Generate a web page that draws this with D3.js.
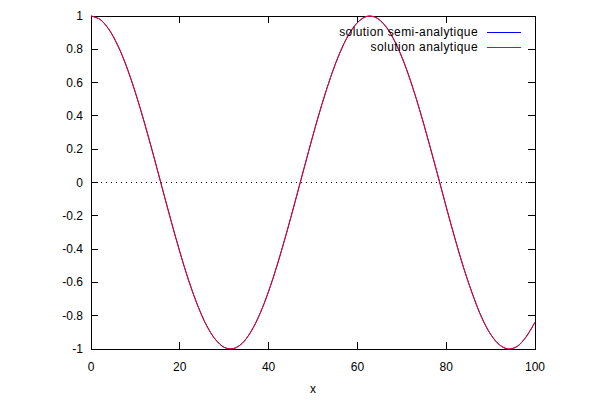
<!DOCTYPE html>
<html><head><meta charset="utf-8">
<script src="https://cdn.jsdelivr.net/npm/d3@7"></script>
<style>body{margin:0;background:#fff}text{font-family:"Liberation Sans",Arial,sans-serif;font-size:12px;fill:#000}</style>
</head><body><svg id="c" width="600" height="400"></svg>
<script>
const xs = [0,2,4,6,8,10,12,14,16,18,20,22,24,26,28,30,32,34,36,38,40,42,44,46,48,50,52,54,56,58,60,62,64,66,68,70,72,74,76,78,80,82,84,86,88,90,92,94,96,98,100];
const semiAnalytique = [1,0.980,0.921,0.825,0.697,0.540,0.362,0.170,-0.029,-0.227,-0.416,-0.589,-0.737,-0.857,-0.942,-0.990,-0.998,-0.967,-0.897,-0.791,-0.654,-0.490,-0.307,-0.112,0.087,0.284,0.469,0.635,0.776,0.886,0.960,0.997,0.993,0.950,0.869,0.754,0.608,0.438,0.250,0.054,-0.146,-0.339,-0.519,-0.676,-0.811,-0.911,-0.975,-1.000,-0.984,-0.927,-0.839];
const analytique = [1,0.980,0.921,0.825,0.697,0.540,0.362,0.170,-0.029,-0.227,-0.416,-0.589,-0.737,-0.857,-0.942,-0.990,-0.998,-0.967,-0.897,-0.791,-0.654,-0.490,-0.307,-0.112,0.087,0.284,0.469,0.635,0.776,0.886,0.960,0.997,0.993,0.950,0.869,0.754,0.608,0.438,0.250,0.054,-0.146,-0.339,-0.519,-0.676,-0.811,-0.911,-0.975,-1.000,-0.984,-0.927,-0.839];
const xTicks = [0,20,40,60,80,100];
const yTicks = [-1,-0.8,-0.6,-0.4,-0.2,0,0.2,0.4,0.6,0.8,1];
const seriesNames = ["solution semi-analytique","solution analytique"];
const seriesColors = ["#0000ff","#ff0000"];

const svg = d3.select("#c");
const L=91, R=535, T=16, B=349;
const x = d3.scaleLinear().domain([0,100]).range([L,R]);
const y = d3.scaleLinear().domain([-1,1]).range([B,T]);
const fmt = v => String(Math.round(v*10)/10);

// zero line
svg.append("line").attr("x1",x(0)).attr("x2",x(100)).attr("y1",y(0)).attr("y2",y(0))
  .attr("stroke","#000").attr("stroke-width",1).attr("stroke-dasharray","1,4").attr("shape-rendering","crispEdges");

const tl = 7;
const g = svg.append("g").attr("shape-rendering","crispEdges");
xTicks.forEach(v=>{
  g.append("line").attr("x1",x(v)).attr("x2",x(v)).attr("y1",B).attr("y2",B-tl).attr("stroke","#000");
  g.append("line").attr("x1",x(v)).attr("x2",x(v)).attr("y1",T).attr("y2",T+tl).attr("stroke","#000");
  svg.append("text").attr("x",x(v)).attr("y",B+22).attr("text-anchor","middle").text(fmt(v));
});
yTicks.forEach(v=>{
  g.append("line").attr("x1",L).attr("x2",L+tl).attr("y1",y(v)).attr("y2",y(v)).attr("stroke","#000");
  g.append("line").attr("x1",R).attr("x2",R-tl).attr("y1",y(v)).attr("y2",y(v)).attr("stroke","#000");
  svg.append("text").attr("x",L-8).attr("y",y(v)+4).attr("text-anchor","end").text(fmt(v));
});

const line = d3.line().x((d,i)=>x(xs[i])).y(d=>y(d)).curve(d3.curveCatmullRom.alpha(0.5));
[semiAnalytique, analytique].forEach((s,k)=>{
  svg.append("path").attr("d",line(s)).attr("fill","none").attr("stroke",seriesColors[k]).attr("stroke-width",1);
});

g.append("rect").attr("x",L).attr("y",T).attr("width",R-L).attr("height",B-T).attr("fill","none").attr("stroke","#000");

seriesNames.forEach((n,k)=>{
  const yy = 32 + k*15;
  svg.append("text").attr("x",478).attr("y",yy+4).attr("text-anchor","end").attr("letter-spacing","0.42px").text(n);
  svg.append("line").attr("x1",487).attr("x2",521).attr("y1",yy).attr("y2",yy).attr("stroke",seriesColors[k]).attr("shape-rendering","crispEdges");
});

svg.append("text").attr("x",313).attr("y",393).attr("text-anchor","middle").text("x");
</script></body></html>
